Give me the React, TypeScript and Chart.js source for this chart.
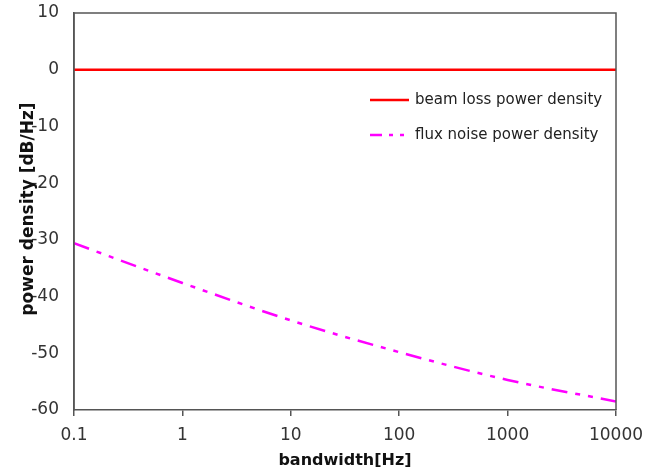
import React, { useEffect, useRef } from "react";
import { Chart, registerables } from "chart.js";
Chart.register(...registerables);

const bandwidthHz = [0.1, 1, 10, 100, 1000, 10000];
const beamLossDb = [0, 0, 0, 0, 0, 0];
const fluxNoiseDb = [-30.6, -37.6, -44.2, -49.8, -54.7, -58.5];
const xTickValues = [0.1, 1, 10, 100, 1000, 10000];
const xTickLabels = ["0.1", "1", "10", "100", "1000", "10000"];
const seriesNames = ["beam loss power density", "flux noise power density"];
const xTitle = "bandwidth[Hz]";
const yTitle = "power density [dB/Hz]";

const FONT = "'DejaVu Sans', Verdana, sans-serif";
const DASH = [16, 8, 5, 8, 5, 8];

const overlay = {
  id: "overlay",
  afterDraw(chart: any) {
    const { ctx, chartArea } = chart;
    const { left, right, top, bottom } = chartArea;
    ctx.save();
    ctx.strokeStyle = "#555";
    ctx.lineWidth = 1.5;
    ctx.beginPath();
    ctx.moveTo(left, bottom);
    ctx.lineTo(left, top);
    ctx.lineTo(right, top);
    ctx.lineTo(right, bottom);
    ctx.stroke();
    ctx.fillStyle = "#111";
    ctx.font = `bold 17px ${FONT}`;
    ctx.textAlign = "center";
    ctx.textBaseline = "middle";
    ctx.translate(29, 209);
    ctx.rotate(-Math.PI / 2);
    ctx.fillText(yTitle, 0, 0);
    ctx.restore();
    ctx.save();
    const lx0 = 370, lx1 = 409, tx = 415;
    const rows = [100, 135];
    const colors = ["#FF0000", "#FF00FF"];
    rows.forEach((y, i) => {
      ctx.strokeStyle = colors[i];
      ctx.lineWidth = 2.5;
      ctx.setLineDash(i === 0 ? [] : [12, 7, 4, 7, 4, 8]);
      ctx.beginPath();
      ctx.moveTo(lx0, y);
      ctx.lineTo(lx1, y);
      ctx.stroke();
      ctx.setLineDash([]);
      ctx.fillStyle = "#222";
      ctx.font = `15px ${FONT}`;
      ctx.textAlign = "left";
      ctx.textBaseline = "middle";
      ctx.fillText(seriesNames[i], tx, y);
    });
    ctx.restore();
  },
};

export default function App() {
  const ref = useRef<HTMLCanvasElement | null>(null);
  useEffect(() => {
    document.body.style.margin = "0";
    const canvas = ref.current!;
    const chart = new Chart(canvas, {
      type: "line",
      data: {
        datasets: [
          {
            label: seriesNames[0],
            data: bandwidthHz.map((x, i) => ({ x, y: beamLossDb[i] })),
            borderColor: "#FF0000",
            borderWidth: 2.5,
            pointRadius: 0,
            fill: false,
          },
          {
            label: seriesNames[1],
            data: bandwidthHz.map((x, i) => ({ x, y: fluxNoiseDb[i] })),
            borderColor: "#FF00FF",
            borderWidth: 2.5,
            borderDash: DASH,
            pointRadius: 0,
            fill: false,
            cubicInterpolationMode: "monotone",
          },
        ],
      },
      options: {
        animation: false,
        responsive: false,
        devicePixelRatio: 1,
        layout: { padding: { top: 13, right: 37, left: 0, bottom: 0 } },
        plugins: { legend: { display: false }, tooltip: { enabled: false } },
        scales: {
          x: {
            type: "logarithmic",
            min: 0.1,
            max: 10000,
            afterBuildTicks: (s: any) => {
              s.ticks = xTickValues.map((v) => ({ value: v }));
            },
            afterFit: (s: any) => {
              s.height = 60;
              s.paddingLeft = 0;
              s.paddingRight = 0;
            },
            ticks: {
              autoSkip: false,
              maxRotation: 0,
              padding: 9,
              color: "#333",
              font: { family: FONT, size: 17 },
              callback: (v: any) => {
                const i = xTickValues.indexOf(Number(v));
                return i >= 0 ? xTickLabels[i] : "";
              },
            },
            grid: { drawOnChartArea: false, drawTicks: true, tickLength: 6, color: "#555", lineWidth: 1.5 },
            border: { display: true, color: "#555", width: 1.5 },
            title: {
              display: true,
              text: xTitle,
              color: "#111",
              font: { family: FONT, size: 16, weight: "bold" },
              padding: { top: 0, bottom: 0 },
            },
          },
          y: {
            type: "linear",
            min: -60,
            max: 10,
            afterFit: (s: any) => {
              s.width = 74;
              s.paddingTop = 0;
              s.paddingBottom = 0;
            },
            ticks: {
              stepSize: 10,
              padding: 15,
              color: "#333",
              font: { family: FONT, size: 17 },
            },
            grid: { drawOnChartArea: false, drawTicks: false },
            border: { display: true, color: "#555", width: 1.5 },
          },
        },
      },
      plugins: [overlay],
    } as any);
    return () => chart.destroy();
  }, []);
  return <canvas ref={ref} width={653} height={470} style={{ display: "block" }} />;
}
